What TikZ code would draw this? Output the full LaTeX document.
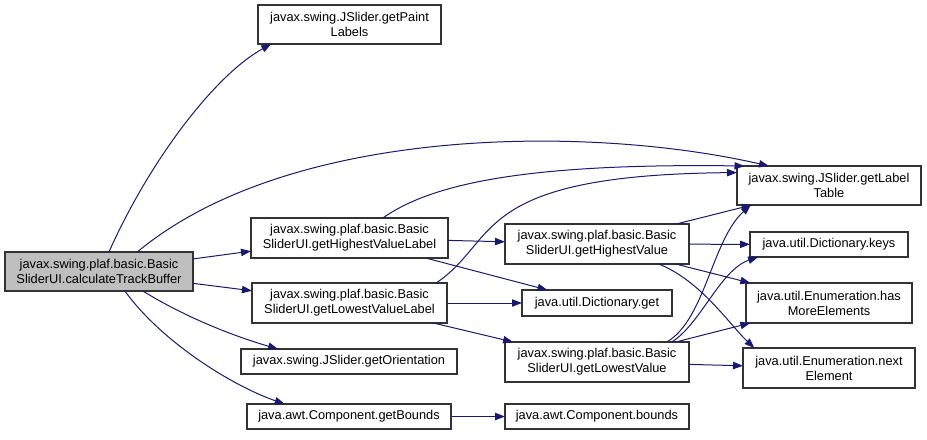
\documentclass[tikz,border=0pt]{standalone}
\usepackage{fontspec}
\usepackage{tikz}
\usetikzlibrary{arrows.meta}
\newfontfamily\graphfont{Liberation Sans}
\definecolor{edgeblue}{HTML}{191970}
\definecolor{nodegrey}{HTML}{BFBFBF}
\tikzset{
	fn/.style 2 args = {draw = black!80, fill = white, line width = 0.8pt, align = center, inner sep = 0pt, outer sep = 0pt, minimum width = #1*0.75pt, minimum height = #2*0.75pt, font = \graphfont\fontsize{9.6}{11.25}\selectfont},
	call/.style = {draw = edgeblue, line width = 0.75pt, -{Triangle[length = 7.5pt, width = 5.5pt]}}
}
\begin{document}
\begin{tikzpicture}[x = 0.75pt, y = -0.75pt]
		\useasboundingbox (0, 0) rectangle (927, 439);
		\node[fn = {188}{39}, fill = nodegrey] (calc) at (99, 271.5) {javax.swing.plaf.basic.Basic\\SliderUI.calculateTrackBuffer};
		\node[fn = {183}{39}] (paint) at (349.5, 24.5) {javax.swing.JSlider.getPaint\\Labels};
		\node[fn = {197}{40}] (hlabel) at (349.5, 238) {javax.swing.plaf.basic.Basic\\SliderUI.getHighestValueLabel};
		\node[fn = {195}{40}] (llabel) at (349.5, 303) {javax.swing.plaf.basic.Basic\\SliderUI.getLowestValueLabel};
		\node[fn = {216}{25}] (orient) at (349, 361.5) {javax.swing.JSlider.getOrientation};
		\node[fn = {204}{25}] (getbounds) at (349, 416.5) {java.awt.Component.getBounds};
		\node[fn = {184}{40}] (hvalue) at (597, 244) {javax.swing.plaf.basic.Basic\\SliderUI.getHighestValue};
		\node[fn = {150}{26}] (dictget) at (597, 303) {java.util.Dictionary.get};
		\node[fn = {184}{40}] (lvalue) at (597, 362) {javax.swing.plaf.basic.Basic\\SliderUI.getLowestValue};
		\node[fn = {184}{25}] (bounds) at (597, 416.5) {java.awt.Component.bounds};
		\node[fn = {184}{39}] (labeltable) at (829, 185.5) {javax.swing.JSlider.getLabel\\Table};
		\node[fn = {158}{25}] (keys) at (829, 244.5) {java.util.Dictionary.keys};
		\node[fn = {166}{40}] (hasmore) at (829, 303) {java.util.Enumeration.has\\MoreElements};
		\node[fn = {172}{40}] (nextel) at (829, 368) {java.util.Enumeration.next\\Element};
		\draw[call] (calc.63) .. controls (150, 160) and (215, 75) .. (paint.194);
		\draw[call] (calc.27) .. controls (290, 125) and (590, 125) .. (labeltable.162);
		\draw[call] (calc) -- (hlabel);
		\draw[call] (calc) -- (llabel);
		\draw[call] (calc.-24) .. controls (190, 320) and (240, 338) .. (orient.170);
		\draw[call] (calc.-37) .. controls (160, 340) and (230, 385) .. (getbounds.169);
		\draw[call] (hlabel.31) .. controls (430, 185) and (520, 163) .. (labeltable.167);
		\draw[call] (hlabel) -- (hvalue);
		\draw[call] (hlabel) -- (dictget);
		\draw[call] (llabel.13) .. controls (500, 240) and (470, 175) .. (labeltable.172);
		\draw[call] (llabel) -- (dictget);
		\draw[call] (llabel) -- (lvalue);
		\draw[call] (hvalue) -- (labeltable);
		\draw[call] (hvalue) -- (keys);
		\draw[call] (hvalue) -- (hasmore);
		\draw[call] (hvalue.-18) .. controls (700, 280) and (730, 325) .. (nextel.165);
		\draw[call] (lvalue.16) .. controls (705, 320) and (712, 240) .. (labeltable.194);
		\draw[call] (lvalue.15) .. controls (700, 325) and (720, 270) .. (keys.190);
		\draw[call] (lvalue) -- (hasmore);
		\draw[call] (lvalue) -- (nextel);
		\draw[call] (getbounds) -- (bounds);
\end{tikzpicture}
\end{document}
